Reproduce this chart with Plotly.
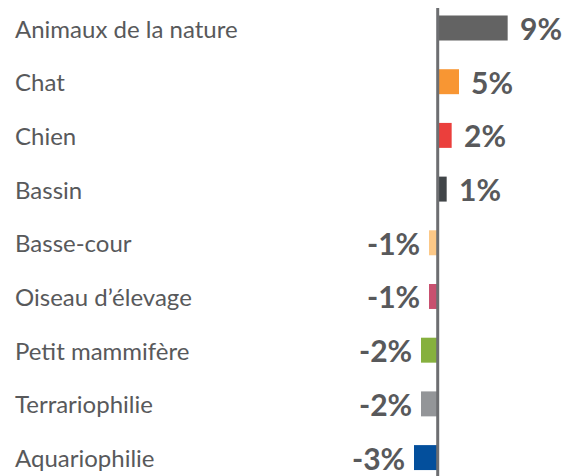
import plotly.graph_objects as go

categories = ["Animaux de la nature", "Chat", "Chien", "Bassin", "Basse-cour",
              "Oiseau d\u2019\u00e9levage", "Petit mammif\u00e8re", "Terrariophilie", "Aquariophilie"]
bar_values = [8.97, 2.73, 1.79, 1.15, -1.12, -1.12, -2.14, -2.14, -3.04]
value_labels = ["9%", "5%", "2%", "1%", "-1%", "-1%", "-2%", "-2%", "-3%"]
colors = ["#636363", "#F89633", "#EB3F3C", "#414548", "#FCC887",
          "#C8506F", "#86B03E", "#939598", "#034F9C"]

TEXT = "#58595B"

fig = go.Figure(go.Bar(
    x=bar_values, y=categories, orientation="h",
    marker=dict(color=colors, line=dict(width=0)),
    hoverinfo="skip",
))

annotations = []
for cat, v, lab in zip(categories, bar_values, value_labels):
    annotations.append(dict(
        x=0, xref="paper", y=cat, yref="y", text=cat, showarrow=False,
        xanchor="left", yanchor="middle",
        font=dict(family="Lato", size=24, color=TEXT)))
    annotations.append(dict(
        x=v, xref="x", y=cat, yref="y", text="<b>" + lab + "</b>", showarrow=False,
        xanchor="left" if v > 0 else "right", yanchor="middle",
        xshift=10 if v > 0 else -7,
        font=dict(family="Lato", size=30, color=TEXT)))

fig.update_layout(
    width=568, height=468,
    margin=dict(l=5, r=0, t=0, b=0),
    paper_bgcolor="white", plot_bgcolor="white",
    showlegend=False,
    bargap=0.535,
    annotations=annotations,
    shapes=[dict(type="line", x0=0, x1=0, xref="x", y0=0, y1=1, yref="paper",
                 line=dict(color="#6D6E71", width=3), layer="above")],
    xaxis=dict(range=[-54.45, 17.73], showgrid=False, zeroline=False,
               showticklabels=False, showline=False, fixedrange=True),
    yaxis=dict(type="category", categoryorder="array", categoryarray=categories,
               range=[8.343, -0.3724], showgrid=False, zeroline=False,
               showticklabels=False, showline=False, fixedrange=True),
)

fig.write_html("out.html")
